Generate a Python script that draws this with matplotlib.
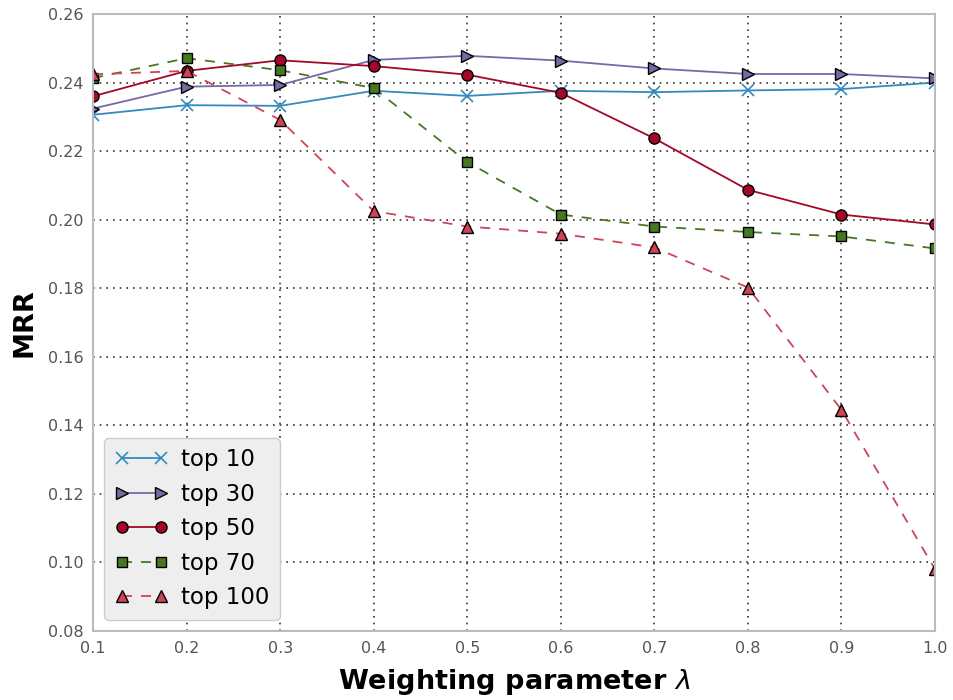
import matplotlib
matplotlib.use("Agg")
import matplotlib.pyplot as plt

plt.rcParams["lines.scale_dashes"] = False

lam = [0.1, 0.2, 0.3, 0.4, 0.5, 0.6, 0.7, 0.8, 0.9, 1.0]
top10 = [0.2306, 0.2334, 0.2332, 0.2376, 0.2361, 0.2376, 0.2372, 0.2377, 0.2381, 0.2400]
top30 = [0.2324, 0.2388, 0.2393, 0.2466, 0.2478, 0.2464, 0.2441, 0.2425, 0.2425, 0.2412]
top50 = [0.2360, 0.2434, 0.2465, 0.2448, 0.2423, 0.2370, 0.2237, 0.2087, 0.2015, 0.1986]
top70 = [0.2413, 0.2471, 0.2436, 0.2384, 0.2168, 0.2015, 0.1980, 0.1964, 0.1951, 0.1916]
top100 = [0.2424, 0.2434, 0.2291, 0.2025, 0.1980, 0.1959, 0.1919, 0.1802, 0.1445, 0.0980]

xticks = [0.1, 0.2, 0.3, 0.4, 0.5, 0.6, 0.7, 0.8, 0.9, 1.0]
yticks = [0.08, 0.10, 0.12, 0.14, 0.16, 0.18, 0.20, 0.22, 0.24, 0.26]

fig = plt.figure(figsize=(9.54, 7.0), dpi=100)
ax = fig.add_axes([0.0975, 0.0986, 0.8826, 0.8814])

dash = (7.2, 6.5)
ax.plot(lam, top10, color="#348ABD", marker="x", markersize=8.5, mew=1.2,
        lw=1.3, linestyle="-", label="top 10")
ax.plot(lam, top30, color="#7A68A6", marker=">", markersize=8, mec="black",
        mew=1.0, lw=1.3, linestyle="-", label="top 30")
ax.plot(lam, top50, color="#A60628", marker="o", markersize=8, mec="black",
        mew=1.0, lw=1.3, linestyle="-", label="top 50")
ax.plot(lam, top70, color="#467821", marker="s", markersize=7.3, mec="black",
        mew=1.0, lw=1.3, linestyle=(0, dash), label="top 70")
ax.plot(lam, top100, color="#CF4457", marker="^", markersize=8, mec="black",
        mew=1.0, lw=1.3, linestyle=(0, dash), label="top 100")

ax.set_xlim(0.1, 1.0)
ax.set_ylim(0.08, 0.26)
ax.set_xticks(xticks)
ax.set_yticks(yticks)
ax.set_xticklabels([f"{v:.1f}" for v in xticks])
ax.set_yticklabels([f"{v:.2f}" for v in yticks])
ax.tick_params(axis="both", labelsize=11.5, labelcolor="#555555", length=0, pad=7)

ax.grid(True, color="#222222", linestyle=(0, (1.2, 3.6)), linewidth=1.1)
ax.set_axisbelow(True)
for s in ax.spines.values():
    s.set_color("#bcbcbc")
    s.set_linewidth(1.5)

ax.set_xlabel(r"Weighting parameter $\lambda$", fontsize=19.5, fontweight="bold", labelpad=8)
ax.set_ylabel("MRR", fontsize=19.5, fontweight="bold", labelpad=7)

leg = ax.legend(loc="lower left", numpoints=2, fontsize=16.5, frameon=True,
                fancybox=True, borderpad=0.45, labelspacing=0.5,
                handlelength=2.3, handletextpad=0.6)
leg.get_frame().set_facecolor("#eeeeee")
leg.get_frame().set_edgecolor("#cccccc")
leg.get_frame().set_alpha(1.0)

fig.savefig("out.png", dpi=100)
